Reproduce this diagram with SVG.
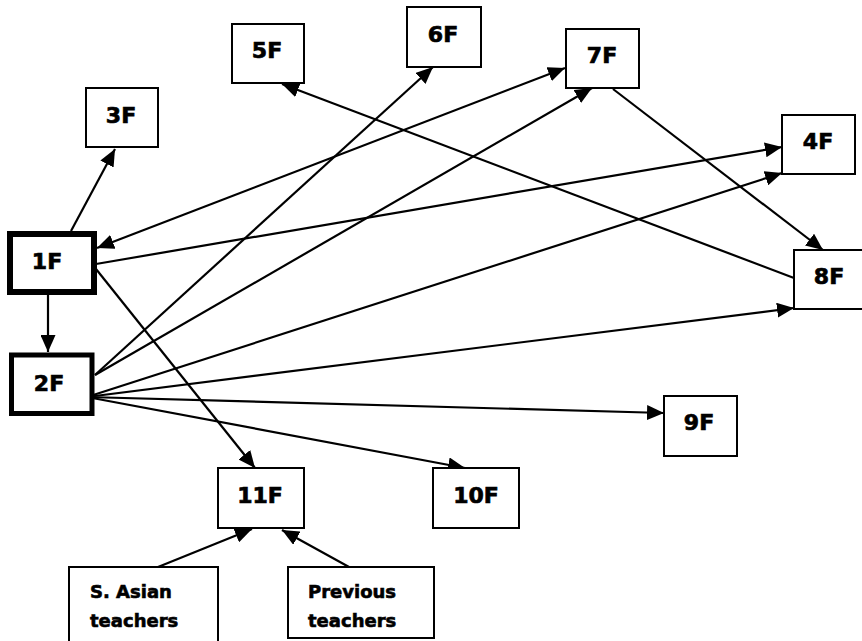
<svg xmlns="http://www.w3.org/2000/svg" width="862" height="641" viewBox="0 0 862 641">
<style>
.box{fill:#fff;stroke:#000;stroke-width:2}
.thick{fill:#fff;stroke:#000}
.lbl{font-family:"DejaVu Sans",Verdana,sans-serif;font-weight:bold;font-size:22px;fill:#000;stroke:#000;stroke-width:0.7;text-anchor:middle}
.sm{font-family:"DejaVu Sans",Verdana,sans-serif;font-weight:bold;font-size:18px;fill:#000;stroke:#000;stroke-width:0.6}
.edge{stroke:#000;stroke-width:2.2;fill:none;marker-end:url(#arr)}
</style>
<defs>
<marker id="arr" markerUnits="userSpaceOnUse" markerWidth="18" markerHeight="15" refX="17" refY="7.5" orient="auto-start-reverse">
<path d="M0,0 L17,7.5 L0,15 z" fill="#000"/>
</marker>
</defs>
<rect width="862" height="641" fill="#fff"/>
<g id="connectors">
<line class="edge" x1="71" y1="231" x2="115" y2="149"/>
<line class="edge" x1="48" y1="295" x2="48" y2="352"/>
<line class="edge" x1="794" y1="278" x2="282" y2="84"/>
<line class="edge" x1="97" y1="248" x2="565" y2="68" style="marker-start:url(#arr)"/>
<line class="edge" x1="96" y1="264" x2="782" y2="147"/>
<line class="edge" x1="96" y1="269" x2="255" y2="468"/>
<line class="edge" x1="95" y1="375" x2="433" y2="67"/>
<line class="edge" x1="95" y1="375" x2="592" y2="88"/>
<line class="edge" x1="87" y1="397" x2="782" y2="173"/>
<line class="edge" x1="87" y1="397" x2="794" y2="308"/>
<line class="edge" x1="87" y1="397" x2="664" y2="413"/>
<line class="edge" x1="87" y1="397" x2="465" y2="468"/>
<line class="edge" x1="613" y1="89" x2="823" y2="250"/>
<line class="edge" x1="158" y1="567" x2="252" y2="529"/>
<line class="edge" x1="349" y1="567" x2="282" y2="530"/>
</g>
<g id="n3F"><rect class="box" x="86" y="88" width="72" height="59"/><text class="lbl" x="121" y="123">3F</text></g>
<g id="n5F"><rect class="box" x="232" y="24" width="72" height="59"/><text class="lbl" x="267" y="58">5F</text></g>
<g id="n6F"><rect class="box" x="407" y="7" width="74" height="60"/><text class="lbl" x="443" y="42">6F</text></g>
<g id="n7F"><rect class="box" x="566" y="29" width="73" height="59"/><text class="lbl" x="602" y="63">7F</text></g>
<g id="n4F"><rect class="box" x="782" y="115" width="73" height="59"/><text class="lbl" x="818" y="149">4F</text></g>
<g id="n8F"><rect class="box" x="794" y="250" width="80" height="59"/><text class="lbl" x="829" y="284">8F</text></g>
<g id="n1F"><rect class="thick" style="stroke-width:6" x="10" y="234" width="84" height="58"/><text class="lbl" x="47" y="269">1F</text></g>
<g id="n2F"><rect class="thick" style="stroke-width:5" x="11.5" y="355" width="80.5" height="58.5"/><text class="lbl" x="49" y="391">2F</text></g>
<g id="n9F"><rect class="box" x="664" y="396" width="73" height="60"/><text class="lbl" x="699" y="430">9F</text></g>
<g id="n10F"><rect class="box" x="433" y="468" width="86" height="60"/><text class="lbl" x="476" y="503">10F</text></g>
<g id="n11F"><rect class="box" x="218" y="468" width="86" height="60"/><text class="lbl" x="260" y="503">11F</text></g>
<g id="nSAsian"><rect class="box" x="69" y="567" width="149" height="80"/><text class="sm" x="90" y="598">S. Asian</text><text class="sm" x="90" y="627">teachers</text></g>
<g id="nPrevious"><rect class="box" x="288" y="567" width="146" height="71"/><text class="sm" x="308" y="598">Previous</text><text class="sm" x="308" y="627">teachers</text></g>
</svg>
